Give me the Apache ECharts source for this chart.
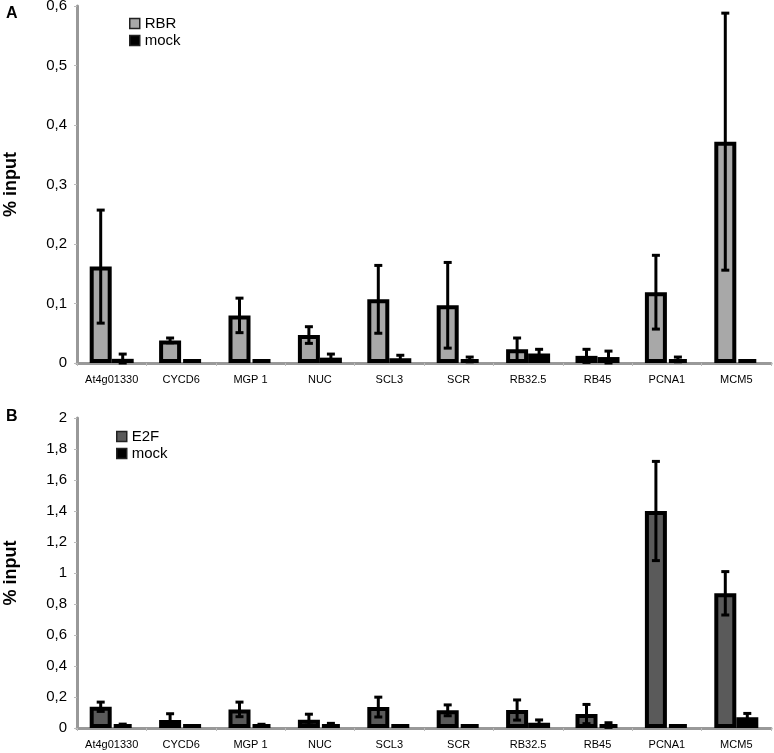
<!DOCTYPE html>
<html><head><meta charset="utf-8">
<script src="https://cdn.jsdelivr.net/npm/echarts@6/dist/echarts.min.js"></script>
<style>html,body{margin:0;padding:0;background:#fff}#c{width:774px;height:753px}</style>
</head><body><div id="c"></div>
<script>
const categories = ['At4g01330','CYCD6','MGP 1','NUC','SCL3','SCR','RB32.5','RB45','PCNA1','MCM5'];
// Panel A
const rbrMean  = [0.162,0.038,0.080,0.047,0.107,0.097,0.023,0.012,0.119,0.372];
const rbrErr   = [0.095,0.004,0.029,0.014,0.057,0.072,0.019,0.011,0.062,0.216];
const mockAMean= [0.007,0.003,0.001,0.009,0.008,0.006,0.016,0.010,0.006,0.002];
const mockAErr = [0.008,0,0,0.006,0.005,0.004,0.007,0.010,0.004,0];
// Panel B
const e2fMean  = [0.137,0.052,0.120,0.054,0.135,0.114,0.116,0.090,1.400,0.869];
const e2fErr   = [0.030,0.040,0.047,0.035,0.064,0.035,0.065,0.062,0.320,0.140];
const mockBMean= [0.020,0.010,0.020,0.024,0.010,0.005,0.034,0.019,0.010,0.069];
const mockBErr = [0.005,0,0.004,0.006,0,0,0.018,0.015,0,0.025];
const yTicksA = {min:0,max:0.6,interval:0.1};
const yTicksB = {min:0,max:2,interval:0.2};

const BAR_W = 22;
const FONT = 'Liberation Sans, Arial, sans-serif';
function errData(mean, err){
  return mean.map((m,i)=>[i, Math.max(0,m-err[i]), m+err[i], err[i]]);
}
function errRender(sign){
  return function(params, api){
    if (api.value(3) <= 0) return null;
    const x = api.value(0);
    const lo = api.coord([x, api.value(1)]);
    const hi = api.coord([x, api.value(2)]);
    const cx = lo[0] + sign*BAR_W/2;
    const cap = 4;
    const st = {stroke:'#000', lineWidth:3};
    return {type:'group', children:[
      {type:'line', shape:{x1:cx,y1:lo[1],x2:cx,y2:hi[1]}, style:st},
      {type:'line', shape:{x1:cx-cap,y1:hi[1],x2:cx+cap,y2:hi[1]}, style:st},
      {type:'line', shape:{x1:cx-cap,y1:lo[1],x2:cx+cap,y2:lo[1]}, style:st}
    ]};
  };
}
const fmt = v => String(+v.toFixed(2)).replace('.',',');
const axisLine = {show:true, lineStyle:{color:'#999', width:3}};
function xAxis(gi){
  return {type:'category', gridIndex:gi, data:categories,
    axisLine:axisLine, axisTick:{show:true, length:3, lineStyle:{color:'#bbb',width:1}},
    axisLabel:{color:'#000', fontSize:11, fontFamily:FONT, margin:11, interval:0}};
}
function yAxis(gi, t){
  return {type:'value', gridIndex:gi, min:t.min, max:t.max, interval:t.interval,
    splitLine:{show:false}, axisLine:axisLine,
    axisTick:{show:true, length:3, lineStyle:{color:'#bbb',width:1}},
    axisLabel:{color:'#000', fontSize:15, fontFamily:FONT, margin:10, formatter:fmt},
    name:'% input', nameLocation:'middle', nameGap:57, nameRotate:90,
    nameTextStyle:{fontSize:18, fontWeight:'bold', color:'#000', fontFamily:FONT}};
}
const barStyle = c => ({color:c, borderColor:'#000', borderWidth:4});
const barCommon = {type:'bar', barWidth:BAR_W, barGap:'0%', barMinHeight:4};
const legendCommon = {orient:'vertical', icon:'rect', itemWidth:10, itemHeight:10, itemGap:2,
  itemStyle:{borderWidth:1.5, borderColor:'#222'}, textStyle:{fontSize:15,color:'#000',fontFamily:FONT}};
const chart = echarts.init(document.getElementById('c'), null, {renderer:'canvas'});
chart.setOption({
  animation:false,
  title:[
    {text:'A', left:1, top:1, textStyle:{fontSize:16,fontWeight:'bold',color:'#000',fontFamily:FONT}},
    {text:'B', left:1, top:404, textStyle:{fontSize:16,fontWeight:'bold',color:'#000',fontFamily:FONT}}
  ],
  grid:[
    {left:77, top:6, width:694, height:357, containLabel:false, outerBoundsMode:'none'},
    {left:77, top:418, width:694, height:310, containLabel:false, outerBoundsMode:'none'}
  ],
  legend:[
    Object.assign({data:['RBR','mock'], left:124, top:11}, legendCommon),
    Object.assign({data:['E2F','mock'], left:111, top:424}, legendCommon)
  ],
  xAxis:[xAxis(0), xAxis(1)],
  yAxis:[yAxis(0,yTicksA), yAxis(1,yTicksB)],
  series:[
    Object.assign({name:'RBR', xAxisIndex:0, yAxisIndex:0, data:rbrMean, itemStyle:barStyle('#a8a8a8')}, barCommon),
    Object.assign({name:'mock', xAxisIndex:0, yAxisIndex:0, data:mockAMean, itemStyle:barStyle('#000')}, barCommon),
    {type:'custom', xAxisIndex:0, yAxisIndex:0, data:errData(rbrMean,rbrErr), renderItem:errRender(-1), z:10, silent:true},
    {type:'custom', xAxisIndex:0, yAxisIndex:0, data:errData(mockAMean,mockAErr), renderItem:errRender(1), z:10, silent:true},
    Object.assign({name:'E2F', xAxisIndex:1, yAxisIndex:1, data:e2fMean, itemStyle:barStyle('#5a5a5a')}, barCommon),
    Object.assign({name:'mock', xAxisIndex:1, yAxisIndex:1, data:mockBMean, itemStyle:barStyle('#000')}, barCommon),
    {type:'custom', xAxisIndex:1, yAxisIndex:1, data:errData(e2fMean,e2fErr), renderItem:errRender(-1), z:10, silent:true},
    {type:'custom', xAxisIndex:1, yAxisIndex:1, data:errData(mockBMean,mockBErr), renderItem:errRender(1), z:10, silent:true}
  ]
});
</script></body></html>
